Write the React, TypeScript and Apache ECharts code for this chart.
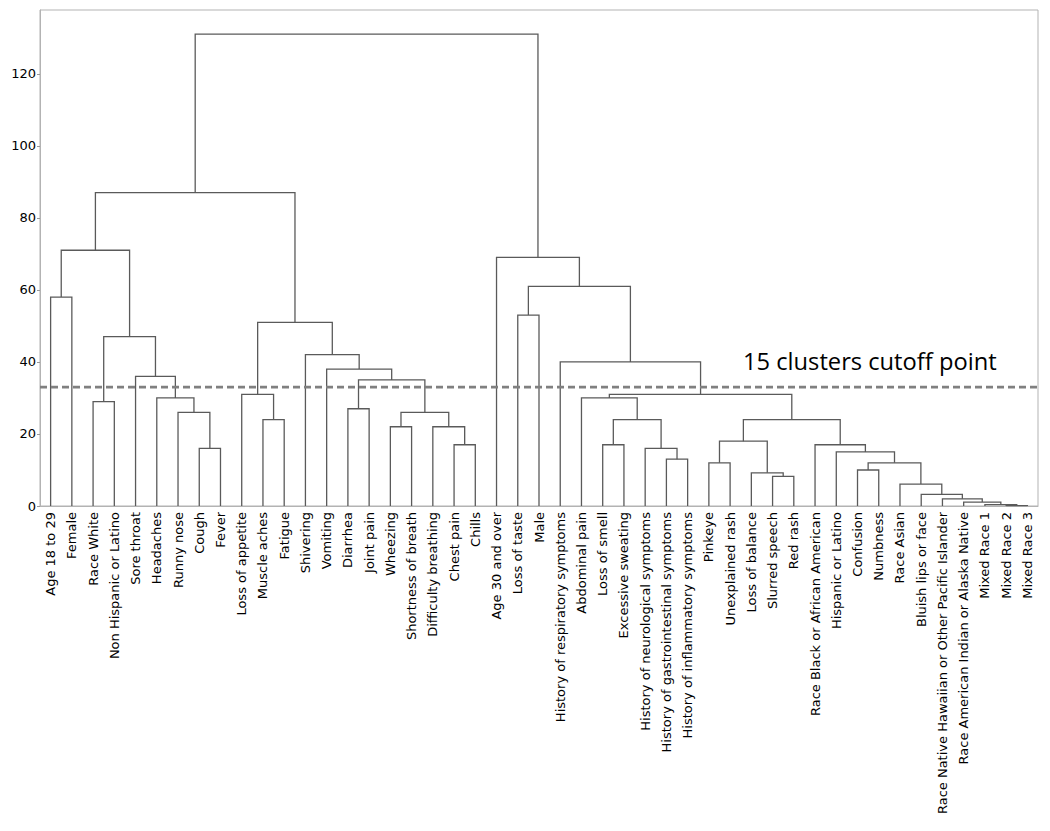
import React, { useEffect, useRef } from 'react';
import * as echarts from 'echarts';

// Leaf labels, in dendrogram order (left to right)
const leafLabels: string[] = [
  'Age 18 to 29', 'Female', 'Race White', 'Non Hispanic or Latino', 'Sore throat',
  'Headaches', 'Runny nose', 'Cough', 'Fever', 'Loss of appetite', 'Muscle aches',
  'Fatigue', 'Shivering', 'Vomiting', 'Diarrhea', 'Joint pain', 'Wheezing',
  'Shortness of breath', 'Difficulty breathing', 'Chest pain', 'Chills',
  'Age 30 and over', 'Loss of taste', 'Male', 'History of respiratory symptoms',
  'Abdominal pain', 'Loss of smell', 'Excessive sweating',
  'History of neurological symptoms', 'History of gastrointestinal symptoms',
  'History of inflammatory symptoms', 'Pinkeye', 'Unexplained rash',
  'Loss of balance', 'Slurred speech', 'Red rash', 'Race Black or African American',
  'Hispanic or Latino', 'Confusion', 'Numbness', 'Race Asian', 'Bluish lips or face',
  'Race Native Hawaiian or Other Pacific Islander',
  'Race American Indian or Alaska Native', 'Mixed Race 1', 'Mixed Race 2', 'Mixed Race 3',
];

// Linkage: [left node, right node, merge height]; leaves are 0..46, merge k creates node 47 + k
const merges: [number, number, number][] = [
  [45, 46, 0.1],   // 47
  [44, 47, 0.4],   // 48
  [43, 48, 1.1],   // 49
  [42, 49, 2],     // 50
  [41, 50, 3.2],   // 51
  [40, 51, 6.1],   // 52
  [38, 39, 10],    // 53
  [53, 52, 12],    // 54
  [37, 54, 15],    // 55
  [36, 55, 17],    // 56
  [34, 35, 8.2],   // 57
  [33, 57, 9.2],   // 58
  [31, 32, 12],    // 59
  [59, 58, 18],    // 60
  [60, 56, 24],    // 61
  [29, 30, 13],    // 62
  [28, 62, 16],    // 63
  [26, 27, 17],    // 64
  [64, 63, 24],    // 65
  [25, 65, 30],    // 66
  [66, 61, 31],    // 67
  [24, 67, 40],    // 68
  [22, 23, 53],    // 69
  [69, 68, 61],    // 70
  [21, 70, 69],    // 71
  [7, 8, 16],      // 72
  [6, 72, 26],     // 73
  [5, 73, 30],     // 74
  [4, 74, 36],     // 75
  [2, 3, 29],      // 76
  [76, 75, 47],    // 77
  [0, 1, 58],      // 78
  [78, 77, 71],    // 79
  [10, 11, 24],    // 80
  [9, 80, 31],     // 81
  [19, 20, 17],    // 82
  [18, 82, 22],    // 83
  [16, 17, 22],    // 84
  [84, 83, 26],    // 85
  [14, 15, 27],    // 86
  [86, 85, 35],    // 87
  [13, 87, 38],    // 88
  [12, 88, 42],    // 89
  [81, 89, 51],    // 90
  [79, 90, 87],    // 91
  [91, 71, 131],   // 92
];

const cutoffHeight = 33;
const cutoffLabel = '15 clusters cutoff point';
const yTickInterval = 20;
const yMax = 137.7;

function buildLinks() {
  const nodeX: number[] = leafLabels.map((_, i) => i);
  const nodeH: number[] = leafLabels.map(() => 0);
  const links: { coords: number[][] }[] = [];
  merges.forEach(([a, b, h]) => {
    const xa = nodeX[a];
    const xb = nodeX[b];
    links.push({ coords: [[xa, nodeH[a]], [xa, h], [xb, h], [xb, nodeH[b]]] });
    nodeX.push((xa + xb) / 2);
    nodeH.push(h);
  });
  return links;
}

export default function App() {
  const ref = useRef<HTMLDivElement>(null);
  useEffect(() => {
    const chart = echarts.init(ref.current!, null, { renderer: 'svg' });
    const n = leafLabels.length;
    const option: any = {
      animation: false,
      backgroundColor: '#ffffff',
      grid: {
        left: 40, right: 12, top: 10, bottom: 325,
        show: true, borderColor: '#b3b3b3', borderWidth: 1, backgroundColor: 'transparent',
      },
      xAxis: [
        {
          type: 'category',
          data: leafLabels,
          boundaryGap: true,
          axisLine: { show: true, onZero: false, lineStyle: { color: '#b3b3b3', width: 1 } },
          axisTick: { show: false },
          splitLine: { show: false },
          axisLabel: {
            interval: 0, rotate: 90, margin: 6,
            fontFamily: 'DejaVu Sans', fontSize: 13, color: '#000',
          },
        },
        {
          type: 'value', min: -0.5, max: n - 0.5, show: false,
          axisLine: { show: false, onZero: false }, splitLine: { show: false },
        },
      ],
      yAxis: {
        type: 'value', min: 0, max: yMax, interval: yTickInterval,
        axisLine: { show: true, onZero: false, lineStyle: { color: '#b3b3b3', width: 1 } },
        axisTick: { show: true, length: 3, lineStyle: { color: '#999' } },
        splitLine: { show: false },
        axisLabel: {
          fontFamily: 'DejaVu Sans', fontSize: 13, color: '#000', margin: 4,
          showMaxLabel: false,
        },
      },
      series: [
        {
          type: 'lines',
          coordinateSystem: 'cartesian2d',
          xAxisIndex: 1, yAxisIndex: 0,
          polyline: true,
          silent: true,
          lineStyle: { color: '#5a5a5a', width: 1.3, opacity: 1 },
          data: buildLinks(),
        },
        {
          type: 'line',
          xAxisIndex: 1, yAxisIndex: 0,
          silent: true,
          symbol: 'none',
          lineStyle: { color: '#808080', width: 2.6, type: [7, 4] },
          data: [[-0.5, cutoffHeight], [n - 0.5, cutoffHeight]],
          z: 3,
        },
      ],
      graphic: [
        {
          type: 'text', left: 743, top: 349,
          style: {
            text: cutoffLabel,
            fontFamily: 'Open Sans', fontSize: 23.7, fill: '#000',
          },
        },
      ],
    };
    chart.setOption(option);
    return () => chart.dispose();
  }, []);
  return (
    <div
      ref={ref}
      style={{ position: 'fixed', left: 0, top: 0, width: 1050, height: 831, background: '#fff' }}
    />
  );
}
